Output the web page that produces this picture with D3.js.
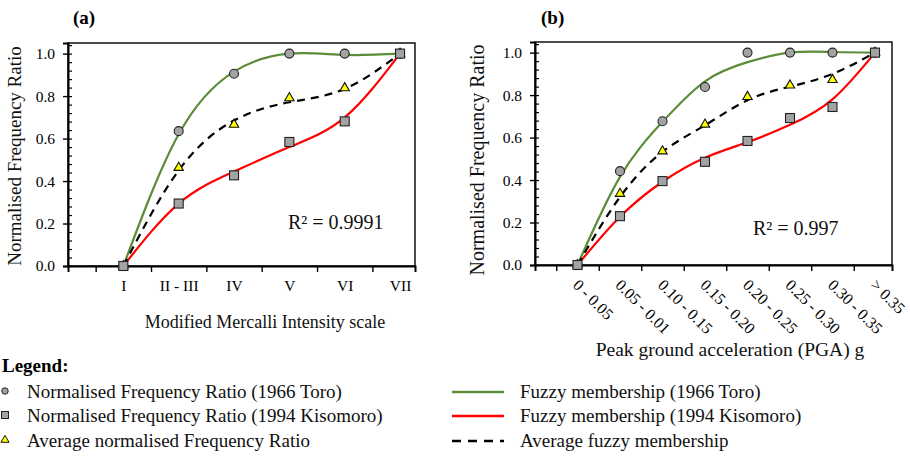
<!DOCTYPE html>
<html><head><meta charset="utf-8">
<script src="https://cdn.jsdelivr.net/npm/d3@7"></script>
<style>
html,body{margin:0;padding:0;background:#fff;}
svg{display:block;}
svg text{font-family:"Liberation Serif","Times New Roman",serif !important;}
</style></head>
<body><svg id="c" width="910" height="456"></svg>
<script>
// ---- data ----
const catsA = ["I", "II - III", "IV", "V", "VI", "VII"];
const toroA = [0, 0.635, 0.905, 1.0, 1.0, 1.0];
const kisoA = [0, 0.294, 0.427, 0.584, 0.681, 1.0];
const avgA  = [0, 0.463, 0.666, 0.791, 0.838, 1.0];
const fitToroA = [0, 0.62, 0.915, 1.0, 0.994, 1.0];
const fitKisoA = [0, 0.294, 0.445, 0.56, 0.70, 1.0];
const fitAvgA  = [0, 0.45, 0.685, 0.771, 0.834, 1.0];

const catsB = ["0 - 0.05", "0.05 - 0.01", "0.10 - 0.15", "0.15 - 0.20", "0.20 - 0.25", "0.25 - 0.30", "0.30 - 0.35", "> 0.35"];
const toroB = [0, 0.442, 0.677, 0.838, 1.0, 1.0, 1.0, 1.0];
const kisoB = [0, 0.230, 0.395, 0.486, 0.584, 0.692, 0.744, 1.0];
const avgB  = [0, 0.336, 0.536, 0.662, 0.792, 0.846, 0.872, 1.0];
const fitToroB = [0, 0.415, 0.674, 0.865, 0.955, 1.0, 1.003, 1.0];
const fitKisoB = [0, 0.227, 0.392, 0.505, 0.578, 0.66, 0.78, 1.0];
const fitAvgB  = [0, 0.32, 0.533, 0.658, 0.776, 0.84, 0.90, 1.0];

const yMajor = [0, 0.2, 0.4, 0.6, 0.8, 1.0];
const yMinor = [0.04,0.08,0.12,0.16,0.24,0.28,0.32,0.36,0.44,0.48,0.52,0.56,0.64,0.68,0.72,0.76,0.84,0.88,0.92,0.96,1.04];

const GREEN = "#5b8c38", RED = "#ff0000", GREY = "#a3a3a3";

const svg = d3.select("#c");

function drawPanel(o) {
  const g = svg.append("g");
  const n = o.cats.length;
  const x = d3.scaleLinear().domain([0, o.xMax]).range([o.left, o.right]);
  const y = d3.scaleLinear().domain([0, 1.05]).range([o.bottom, o.top]);

  // frame
  g.append("rect").attr("x", o.left).attr("y", o.top)
    .attr("width", o.right - o.left).attr("height", o.bottom - o.top)
    .attr("fill", "none").attr("stroke", "#000").attr("stroke-width", 1.4);

  // y axis major (outer)
  const ya = g.append("g").attr("transform", `translate(${o.left},0)`)
    .call(d3.axisLeft(y).tickValues(yMajor).tickSize(5).tickPadding(8).tickFormat(d3.format(".1f")));
  ya.select(".domain").attr("stroke-width", 2);
  ya.selectAll("text").attr("font-size", 15.5).attr("fill", "#000");
  ya.selectAll("line").attr("stroke-width", 1.4);
  // inner ticks (major + minor)
  const yi = g.append("g").attr("transform", `translate(${o.left},0)`)
    .call(d3.axisRight(y).tickValues(yMajor.concat(yMinor)).tickSize(4).tickFormat(""));
  yi.select(".domain").remove();
  yi.selectAll("line").attr("stroke-width", 1.2);

  // x ticks between categories
  const xt = d3.range(n).map(i => i + 0.5);
  const xa = g.append("g").attr("transform", `translate(0,${o.bottom})`)
    .call(d3.axisBottom(x).tickValues(xt).tickSize(6).tickFormat(""));
  xa.select(".domain").attr("stroke-width", 2);
  xa.selectAll("line").attr("stroke-width", 1.4);

  // category labels
  const xl = g.append("g").attr("transform", `translate(0,${o.bottom})`)
    .call(d3.axisBottom(x).tickValues(d3.range(1, n + 1)).tickSize(0)
      .tickFormat(i => o.cats[i - 1]));
  xl.select(".domain").remove();
  const lt = xl.selectAll("text").attr("fill", "#000");
  if (o.rotate) {
    lt.attr("font-size", 16).attr("text-anchor", "start")
      .attr("y", 0).attr("dy", "0.35em")
      .attr("transform", "translate(-2,17) rotate(45)");
  } else {
    lt.attr("font-size", 15.5).attr("y", 14).attr("dy", "0.71em");
  }

  // fitted curves
  const line = vals => d3.line().x((d, i) => x(i + 1)).y(d => y(d)).curve(d3.curveNatural)(vals);
  g.append("path").attr("d", line(o.fitToro)).attr("fill", "none").attr("stroke", GREEN).attr("stroke-width", 2.2);
  g.append("path").attr("d", line(o.fitKiso)).attr("fill", "none").attr("stroke", RED).attr("stroke-width", 2.2);
  g.append("path").attr("d", line(o.fitAvg)).attr("fill", "none").attr("stroke", "#000")
    .attr("stroke-width", 2.2).attr("stroke-dasharray", "8,6");

  // markers
  g.selectAll(".c").data(o.toro).enter().append("circle")
    .attr("cx", (d, i) => x(i + 1)).attr("cy", d => y(d)).attr("r", 4.5)
    .attr("fill", GREY).attr("stroke", "#222").attr("stroke-width", 1.1);
  const tri = d3.symbol().type(d3.symbolTriangle).size(38);
  g.selectAll(".t").data(o.avg).enter().append("path")
    .attr("d", tri).attr("transform", (d, i) => `translate(${x(i + 1)},${y(d)})`)
    .attr("fill", "#ffff00").attr("stroke", "#111").attr("stroke-width", 1.1);
  g.selectAll(".s").data(o.kiso).enter().append("rect")
    .attr("x", (d, i) => x(i + 1) - 4.5).attr("y", d => y(d) - 4.5)
    .attr("width", 9).attr("height", 9)
    .attr("fill", GREY).attr("stroke", "#222").attr("stroke-width", 1.1);

  // R2
  g.append("text").attr("x", o.r2x).attr("y", o.r2y).attr("font-size", 20).attr("fill", "#111")
    .text(o.r2);
  // panel letter
  g.append("text").attr("x", o.letterX).attr("y", 24).attr("font-size", 19).attr("font-weight", "bold")
    .text(o.letter);
  // y title
  g.append("text").attr("transform", `translate(${o.yTitleX},${o.yTitleY}) rotate(-90)`)
    .attr("text-anchor", "middle").attr("font-size", o.yTitleSize).attr("fill", "#111")
    .text("Normalised Frequency Ratio");
  // x title
  g.append("text").attr("x", o.xTitleX).attr("y", o.xTitleY).attr("text-anchor", "middle")
    .attr("font-size", o.xTitleSize).attr("fill", "#111").text(o.xTitle);
}

drawPanel({
  cats: catsA, toro: toroA, kiso: kisoA, avg: avgA, rotate: false,
  fitToro: fitToroA, fitKiso: fitKisoA, fitAvg: fitAvgA,
  left: 68, right: 415, top: 43, bottom: 266, xMax: 6.27,
  r2: "R\u00B2 = 0.9991", r2x: 288, r2y: 229,
  letter: "(a)", letterX: 73,
  yTitleX: 21, yTitleY: 156, yTitleSize: 19,
  xTitle: "Modified Mercalli Intensity scale", xTitleX: 265, xTitleY: 328, xTitleSize: 18
});
drawPanel({
  cats: catsB, toro: toroB, kiso: kisoB, avg: avgB, rotate: true,
  fitToro: fitToroB, fitKiso: fitKisoB, fitAvg: fitAvgB,
  left: 535, right: 892, top: 42, bottom: 265, xMax: 8.4,
  r2: "R\u00B2 = 0.997", r2x: 753, r2y: 235,
  letter: "(b)", letterX: 541,
  yTitleX: 484, yTitleY: 160, yTitleSize: 20,
  xTitle: "Peak ground acceleration (PGA) g", xTitleX: 730, xTitleY: 356, xTitleSize: 19.5
});

// ---- legend ----
const legLeft = ["Normalised Frequency Ratio (1966 Toro)", "Normalised Frequency Ratio (1994 Kisomoro)", "Average normalised Frequency Ratio"];
const legRight = ["Fuzzy membership (1966 Toro)", "Fuzzy membership (1994 Kisomoro)", "Average fuzzy membership"];
const legRows = [391, 415, 440];

const lg = svg.append("g");
lg.append("text").attr("x", 2).attr("y", 372).attr("font-size", 19).attr("font-weight", "bold").text("Legend:");
lg.append("circle").attr("cx", 5).attr("cy", legRows[0]).attr("r", 3.2).attr("fill", GREY).attr("stroke", "#222").attr("stroke-width", 1);
lg.append("rect").attr("x", 1.5).attr("y", legRows[1] - 3.5).attr("width", 7).attr("height", 7).attr("fill", GREY).attr("stroke", "#222").attr("stroke-width", 1);
lg.append("path").attr("d", d3.symbol().type(d3.symbolTriangle).size(28)).attr("transform", `translate(5,${legRows[2]})`)
  .attr("fill", "#ffff00").attr("stroke", "#111").attr("stroke-width", 1);
legLeft.forEach((t, i) => lg.append("text").attr("x", 27).attr("y", legRows[i]).attr("dy", "0.35em")
  .attr("font-size", 19).attr("fill", "#111").text(t));
const lineStyles = [{c: GREEN, d: null}, {c: RED, d: null}, {c: "#000", d: "9,7"}];
lineStyles.forEach((s, i) => {
  const l = lg.append("line").attr("x1", 452).attr("x2", 504).attr("y1", legRows[i] + 1).attr("y2", legRows[i] + 1)
    .attr("stroke", s.c).attr("stroke-width", 2.6);
  if (s.d) l.attr("stroke-dasharray", s.d);
});
legRight.forEach((t, i) => lg.append("text").attr("x", 520).attr("y", legRows[i]).attr("dy", "0.35em")
  .attr("font-size", 19).attr("fill", "#111").text(t));
</script>
</body></html>
